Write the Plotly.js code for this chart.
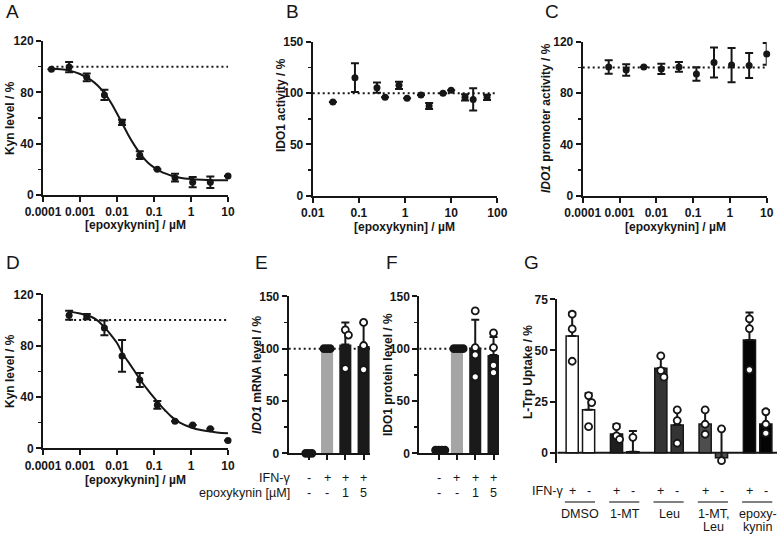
<!DOCTYPE html>
<html>
<head>
<meta charset="utf-8">
<script src="https://cdn.plot.ly/plotly-3.0.1.min.js"></script>
<style>
  html, body { margin: 0; padding: 0; background: #fff; }
  #fig { width: 777px; height: 539px; }
</style>
</head>
<body>
<div id="fig"></div>
<script>
// ---- data ----

// A: Kyn level vs epoxykynin
const doseA = [0.000169, 0.000508, 0.00152, 0.00457, 0.0137, 0.0412, 0.123, 0.370, 1.11, 3.33, 10];
const kynA = [98, 99.7, 91.7, 78, 56.6, 31, 20, 13.5, 10, 10, 14.8];
const kynAErr = [0, 4, 3, 4, 2, 3, 0, 3, 4, 4.5, 0];
const fitAx = [0.000169, 0.0003, 0.0005, 0.001, 0.002, 0.003, 0.005, 0.007, 0.01, 0.014, 0.02, 0.03, 0.05, 0.07, 0.1, 0.15, 0.2, 0.3, 0.5, 1, 2, 5, 10];
const fitAy = [98.6, 98, 97, 94.3, 89.5, 85.3, 78, 71.5, 63.5, 55.5, 47, 38.5, 29.5, 25, 21.5, 18.5, 16.8, 15, 13.5, 12.4, 11.8, 11.5, 11.4];

// B: IDO1 activity
const doseB = [0.0274, 0.0823, 0.247, 0.370, 0.741, 1.11, 2.22, 3.33, 6.67, 10, 20, 30, 60];
const ido1B = [91.4, 115.2, 105.4, 96, 107.7, 95, 98.3, 87.5, 99.9, 102.8, 96, 94, 96];
const ido1BErr = [0, 14, 5, 0, 3.5, 0, 0, 3, 0, 0, 3, 10.9, 2.5];

// C: IDO1 promoter activity
const doseC = [0.000508, 0.00152, 0.00457, 0.0137, 0.0412, 0.123, 0.370, 1.11, 3.33, 10];
const promC = [100.5, 98.2, 100.5, 99, 100.5, 95, 104, 102, 101.6, 110.7];
const promCErr = [5.3, 4.5, 0, 4, 3.8, 5.2, 11.7, 13.4, 9.8, 8.5];

// D: Kyn level (second cell line)
const doseD = [0.000508, 0.00152, 0.00457, 0.0137, 0.0412, 0.123, 0.370, 1.11, 3.33, 10];
const kynD = [103.6, 102.6, 93.8, 72, 53.2, 33.8, 21, 18.2, 15.3, 6];
const kynDErr = [3.5, 2, 5.7, 12.3, 5.5, 3, 0, 0, 0, 0];
const fitDx = [0.000508, 0.001, 0.002, 0.003, 0.005, 0.007, 0.01, 0.014, 0.02, 0.03, 0.05, 0.07, 0.1, 0.15, 0.2, 0.3, 0.5, 1, 2, 5, 10];
const fitDy = [106.5, 105, 102.5, 99.5, 93, 88, 82, 74, 67.5, 60, 50.5, 45, 39.5, 33.5, 29.5, 24.5, 20, 16.2, 14, 12.4, 11.7];

// E / F: conditions
const ifnRow = ['-', '+', '+', '+'];
const epoxyRow = ['-', '-', '1', '5'];
const mrnaE = [0, 100, 104, 102.5];
const mrnaESd = [0, 0, 21, 22.5];
const mrnaEDots = [[0, 0, 0], [100, 100, 100], [118, 113, 81], [125, 103, 80]];
const protF = [3, 100, 101, 94];
const protFSd = [0, 0, 26.5, 17];
const protFDots = [[3, 3, 3, 3], [100, 100, 100, 100], [136, 101, 94, 73], [115, 101, 84, 77]];

// G: L-Trp uptake
const groupsG = ['DMSO', '1-MT', 'Leu', '1-MT,\nLeu', 'epoxy-\nkynin'];
const uptakePlus = [57.1, 9.1, 41.3, 14.0, 55.1];
const uptakeMinus = [21, 0.5, 13.5, -2.5, 14];
const sdPlus = [11.4, 4.8, 6, 6.9, 13.4];
const sdMinus = [8, 10.1, 7.4, 14.1, 6.9];
const sdMinusLow = [0, 0, 0, 12.8, 0];
const dotsPlus = [[67.7, 60.5, 44.7], [12.7, 8.2, 6.5], [47.3, 40.1, 36.9], [20.9, 13.9, 9], [65.4, 60.7, 40.5]];
const dotsMinus = [[27.9, 24.5, 12.7], [7.5, -6.4], [20.9, 15.7, 4.6], [11.6, -3.9, -15.3], [20, 13.9, 9.5]];

// ---- styling ----
const W = 777, H = 539;
const FONT = 'Liberation Sans, Arial, Helvetica, sans-serif';
const INK = '#161616';
const xdom = (a, b) => [a / W, b / W];
const ydom = (top, bottom) => [1 - bottom / H, 1 - top / H];
const decades = [0.0001, 0.001, 0.01, 0.1, 1, 10, 100];
const b = t => '<b>' + t + '</b>';

const tickFont = { family: FONT, size: 12, color: INK, weight: 700 };
function axis(extra) {
  return Object.assign({
    showline: true, linecolor: INK, linewidth: 2,
    ticks: 'outside', ticklen: 5, tickwidth: 2, tickcolor: INK,
    showgrid: false, zeroline: false, tickfont: tickFont, fixedrange: true,
  }, extra);
}
function logAxis(range, dom, anchor) {
  const vals = decades.filter(v => Math.log10(v) >= range[0] - 1e-9 && Math.log10(v) <= range[1] + 1e-9);
  return axis({
    type: 'log', range: range, domain: dom, anchor: anchor,
    tickmode: 'array', tickvals: vals, ticktext: vals.map(v => b(String(v))),
  });
}
function linAxis(range, dom, anchor, dtick, minor) {
  const vals = [];
  for (let v = 0; v <= range[1] + 1e-9; v += dtick) vals.push(v);
  const a = axis({ range: range, domain: dom, anchor: anchor, tickmode: 'array', tickvals: vals, ticktext: vals.map(v => b(v)) });
  if (minor) a.minor = { tickmode: 'linear', tick0: 0, dtick: minor, ticks: 'outside', ticklen: 3, tickwidth: 1.5, tickcolor: INK, showgrid: false };
  return a;
}

const dotted = { color: INK, width: 2, dash: '2px,3px' };

function refLine(x0, x1, xa, ya) {
  return { x: [x0, x1], y: [100, 100], xaxis: xa, yaxis: ya, mode: 'lines', line: dotted, hoverinfo: 'skip' };
}
function points(x, y, err, xa, ya) {
  return {
    x: x, y: y, xaxis: xa, yaxis: ya, mode: 'markers', cliponaxis: false,
    marker: { color: INK, size: 7 },
    error_y: { type: 'data', array: err, visible: true, color: INK, thickness: 2, width: 4 },
  };
}
function curve(x, y, xa, ya) {
  return { x: x, y: y, xaxis: xa, yaxis: ya, mode: 'lines', line: { color: INK, width: 2, shape: 'spline' }, hoverinfo: 'skip' };
}
function spreadX(center, vals, near, step) {
  const pattern = [0, 1, -1, 2, -2];
  return vals.map((v, i) => {
    const close = vals.slice(0, i).filter(u => Math.abs(u - v) < near).length;
    return center + pattern[close % pattern.length] * step;
  });
}
function dotTrace(groups, centers, near, step, xa, ya, fills) {
  const xs = [], ys = [], cs = [];
  groups.forEach((vals, i) => {
    xs.push(...spreadX(centers[i], vals, near, step));
    ys.push(...vals);
    vals.forEach(() => cs.push(fills ? fills[i] : '#ffffff'));
  });
  return {
    x: xs, y: ys, xaxis: xa, yaxis: ya, mode: 'markers', cliponaxis: false,
    marker: { color: cs, size: 7, line: { color: INK, width: 1.8 } },
  };
}

const idx4 = ifnRow.map((_, i) => i);
const barColorsEF = ['#000000', '#a5a5a5', '#1a1a1a', '#1a1a1a'];
const dotFillEF = [INK, INK, '#ffffff', '#ffffff'];
function barTrace(y, sd, xa, ya) {
  return {
    type: 'bar', x: idx4, y: y, xaxis: xa, yaxis: ya, width: 0.66,
    marker: { color: barColorsEF, line: { width: 0 } }, cliponaxis: false,
    error_y: { type: 'data', symmetric: false, array: sd, arrayminus: sd.map(() => 0), color: INK, thickness: 2, width: 4 },
  };
}

const gIdx = groupsG.map((_, i) => i);
const pairOff = 0.185;
const barColorsG = ['#ffffff', '#1f1f1f', '#343434', '#4e4e4e', '#050505'];
function barG(y, sd, sdLow, off) {
  return {
    type: 'bar', x: gIdx.map(g => g + off), y: y, xaxis: 'x7', yaxis: 'y7', width: 0.274,
    marker: { color: barColorsG, line: { color: INK, width: 1.5 } }, cliponaxis: false,
    error_y: { type: 'data', symmetric: false, array: sd, arrayminus: sdLow, color: INK, thickness: 2, width: 4 },
  };
}

const rangeA = [-4, 1], rangeB = [-2, 2], rangeGx = [-0.521, 4.437];

const traces = [
  refLine(doseA[0], doseA[doseA.length - 1], 'x', 'y'),
  curve(fitAx, fitAy, 'x', 'y'),
  points(doseA, kynA, kynAErr, 'x', 'y'),

  refLine(10 ** rangeB[0], 10 ** rangeB[1], 'x2', 'y2'),
  points(doseB, ido1B, ido1BErr, 'x2', 'y2'),

  refLine(10 ** rangeA[0], 10 ** rangeA[1], 'x3', 'y3'),
  points(doseC, promC, promCErr, 'x3', 'y3'),

  refLine(doseD[0], doseD[doseD.length - 1], 'x4', 'y4'),
  curve(fitDx, fitDy, 'x4', 'y4'),
  points(doseD, kynD, kynDErr, 'x4', 'y4'),

  barTrace(mrnaE, mrnaESd, 'x5', 'y5'),
  dotTrace(mrnaEDots, idx4, 6.7, 0.17, 'x5', 'y5', dotFillEF),

  barTrace(protF, protFSd, 'x6', 'y6'),
  dotTrace(protFDots, idx4, 6.7, 0.17, 'x6', 'y6', dotFillEF),

  barG(uptakePlus, sdPlus, uptakePlus.map(() => 0), -pairOff),
  barG(uptakeMinus, sdMinus, sdMinusLow, pairOff),
  dotTrace(dotsPlus, gIdx.map(g => g - pairOff), 3.5, 0.07, 'x7', 'y7'),
  dotTrace(dotsMinus, gIdx.map(g => g + pairOff), 3.5, 0.07, 'x7', 'y7'),
];

// ---- annotations ----
const annotations = [];
const plain = { family: FONT, size: 12.6, color: INK };
const bold = { family: FONT, size: 12, color: INK, weight: 700 };
function note(text, x, y, opts) {
  annotations.push(Object.assign({
    xref: 'paper', yref: 'paper', x: x / W, y: 1 - y / H, text: text, showarrow: false,
    xanchor: 'center', yanchor: 'middle', font: plain,
  }, opts || {}));
}
function dataNote(text, xa, x, y) {
  annotations.push({ xref: xa, yref: 'paper', x: x, y: 1 - y / H, text: text, showarrow: false,
    xanchor: 'center', yanchor: 'middle', font: plain });
}

// panel letters
[['A', 12.5, 11.5], ['B', 292.5, 11.5], ['C', 552, 11.5], ['D', 13, 262.5],
 ['E', 261, 262.5], ['F', 392, 262.5], ['G', 531.5, 262.5]].forEach(([t, x, y]) =>
  note(t, x, y, { font: { family: FONT, size: 19, color: INK } }));

// x titles
note(b('[epoxykynin] / µM'), 135.5, 225, { font: bold });
note(b('[epoxykynin] / µM'), 405, 227, { font: bold });
note(b('[epoxykynin] / µM'), 675, 227, { font: bold });
note(b('[epoxykynin] / µM'), 135.5, 480, { font: bold });

// y titles
note(b('Kyn level / %'), 10, 118, { font: bold, textangle: -90 });
note(b('IDO1 activity / %'), 281, 105, { font: bold, textangle: -90 });
note(b('<i>IDO1</i> promoter activity / %'), 546, 118, { font: bold, textangle: -90 });
note(b('Kyn level / %'), 10, 371, { font: bold, textangle: -90 });
note(b('<i>IDO1</i> mRNA level / %'), 257, 375, { font: bold, textangle: -90 });
note(b('IDO1 protein level / %'), 388, 375, { font: bold, textangle: -90 });
note(b('L-Trp Uptake / %'), 528, 372, { font: bold, textangle: -90 });

// E/F condition table
note('IFN-γ', 292, 478, { xanchor: 'right' });
note('epoxykynin [µM]', 292, 493, { xanchor: 'right' });
['x5', 'x6'].forEach(xa => {
  idx4.forEach(i => {
    dataNote(ifnRow[i], xa, i, 478);
    dataNote(epoxyRow[i], xa, i, 493);
  });
});

// G condition table
note('IFN-γ', 565, 491, { xanchor: 'right' });
const shapes = [];
gIdx.forEach(g => {
  dataNote('+', 'x7', g - pairOff, 491);
  dataNote('-', 'x7', g + pairOff, 491);
  groupsG[g].split('\n').forEach((line, k) => dataNote(line, 'x7', g, 514 + 13 * k));
  shapes.push({ type: 'line', xref: 'x7', yref: 'paper', x0: g - 0.35, x1: g + 0.33,
    y0: 1 - 502 / H, y1: 1 - 502 / H, line: { color: '#808080', width: 2 } });
});
// baseline of G at zero
shapes.push({ type: 'line', xref: 'x7', yref: 'y7', x0: rangeGx[0], x1: rangeGx[1], y0: 0, y1: 0,
  layer: 'below', line: { color: INK, width: 2 } });

// dotted 100 % lines behind the bars in E and F
[['x5', 'y5', -1.1, 3.35], ['x6', 'y6', -1.06, 3.3]].forEach(([xa, ya, a, c]) =>
  shapes.push({ type: 'line', xref: xa, yref: ya, x0: a, x1: c, y0: 100, y1: 100,
    layer: 'below', line: dotted }));

const noX = { showticklabels: false };

const layout = {
  width: W, height: H,
  margin: { l: 0, r: 0, t: 0, b: 0 },
  paper_bgcolor: '#ffffff', plot_bgcolor: 'rgba(0,0,0,0)',
  font: { family: FONT, color: INK },
  showlegend: false, barmode: 'overlay', hovermode: false,

  xaxis: logAxis(rangeA, xdom(43, 228), 'y'),
  yaxis: linAxis([0, 120], ydom(41, 195), 'x', 40, 20),

  xaxis2: logAxis(rangeB, xdom(312.7, 497.3), 'y2'),
  yaxis2: linAxis([0, 150], ydom(42, 195.7), 'x2', 50, 25),

  xaxis3: logAxis(rangeA, xdom(582.7, 766.7), 'y3'),
  yaxis3: linAxis([0, 120], ydom(42, 195.7), 'x3', 40, 20),

  xaxis4: logAxis(rangeA, xdom(43, 228), 'y4'),
  yaxis4: linAxis([0, 120], ydom(294.3, 448.3), 'x4', 40, 20),

  xaxis5: axis(Object.assign({ range: [-1.1, 3.35], domain: xdom(288.7, 370), anchor: 'y5',
    tickmode: 'array', tickvals: idx4 }, noX)),
  yaxis5: linAxis([0, 150], ydom(296.3, 453.3), 'x5', 50, 25),

  xaxis6: axis(Object.assign({ range: [-1.06, 3.3], domain: xdom(419.3, 499), anchor: 'y6',
    tickmode: 'array', tickvals: idx4 }, noX)),
  yaxis6: linAxis([0, 150], ydom(296.3, 453.3), 'x6', 50, 25),

  xaxis7: axis(Object.assign({ range: rangeGx, domain: xdom(557.3, 777), anchor: 'y7',
    showline: false, ticks: '' }, noX)),
  yaxis7: linAxis([-5.2, 75], ydom(299.3, 463.3), 'x7', 25),

  annotations: annotations,
  shapes: shapes,
};

Plotly.newPlot('fig', traces, layout, { displayModeBar: false, staticPlot: true });
</script>
</body>
</html>
